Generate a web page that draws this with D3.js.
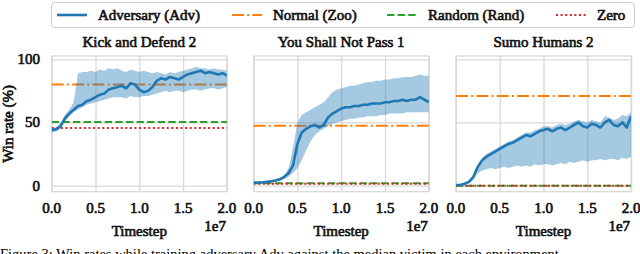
<!DOCTYPE html>
<html>
<head>
  <title>Win rate while training adversary</title>
  <script src="https://d3js.org/d3.v7.min.js"></script>
  <style>
    body { margin: 0; background: #fff; }
    svg { display: block; font-family: "Liberation Serif", "Times New Roman", serif; }
    .lbl { font-size: 15px; fill: #111; stroke: #111; stroke-width: 0.65px; }
  </style>
</head>
<body>
<div id="chart"></div>

<script>
// timesteps, in units of 1e7
var steps = [0, 0.05, 0.1, 0.15, 0.2, 0.25, 0.3, 0.35, 0.4, 0.45, 0.5, 0.55, 0.6, 0.65, 0.7, 0.75, 0.8, 0.85, 0.9, 0.95,
  1.0, 1.05, 1.1, 1.15, 1.2, 1.25, 1.3, 1.35, 1.4, 1.45, 1.5, 1.55, 1.6, 1.65, 1.7, 1.75, 1.8, 1.85, 1.9, 1.95, 2.0];

var panelTitles = ["Kick and Defend 2", "You Shall Not Pass 1", "Sumo Humans 2"];

// Kick and Defend 2
var kdMean = [44, 44.5, 47, 53, 57, 60, 63, 64, 67, 68, 70, 72, 73, 76, 77, 78, 79, 77, 81, 80,
  76, 74, 75, 78, 83, 85, 84, 86, 85, 84, 86, 88, 89, 90, 91, 89, 90, 89, 88, 89, 87];
var kdHigh = [46, 46, 49, 56, 60, 66, 89, 90, 90, 91, 90, 92, 91, 93, 92, 93, 91, 90, 92, 91,
  90, 91, 90, 89, 90, 89, 88, 90, 89, 90, 91, 92, 93, 94, 93, 93, 92, 93, 92, 92, 91];
var kdLow = [42, 43, 45, 51, 55, 58, 60, 62, 64, 65, 66, 67, 68, 69, 70, 70, 70, 69, 71, 70,
  70, 71, 71, 72, 73, 74, 75, 74, 75, 75, 74, 75, 76, 76, 75, 76, 77, 77, 76, 77, 78];

// You Shall Not Pass 1
var ysMean = [2.5, 2.5, 2.5, 3, 3.5, 4, 5, 7, 10, 16, 33, 42, 45, 47, 48, 46, 48, 54, 57, 59,
  61, 62, 62, 63, 63, 64, 64, 65, 65, 65, 66, 66, 67, 67, 68, 67, 68, 68, 70, 68, 66];
var ysHigh = [3, 3, 3, 3.5, 4, 5, 6, 8, 14, 30, 50, 56, 58, 60, 62, 64, 66, 70, 74, 76,
  77, 78, 79, 79, 80, 81, 82, 82, 83, 83, 84, 84, 85, 85, 86, 86, 86, 87, 88, 87, 87];
var ysLow = [2, 2, 2, 2.5, 3, 3.5, 4, 5, 7, 10, 14, 20, 28, 35, 40, 43, 45, 47, 49, 50,
  51, 52, 53, 53, 54, 54, 55, 55, 55, 56, 56, 57, 57, 57, 57, 58, 58, 58, 58, 58, 58];

// Sumo Humans 2
var shMean = [0.5, 0.5, 1.5, 3, 7, 15, 20, 23, 25, 27, 29, 31, 33, 34, 36, 38, 40, 39, 41, 43,
  44, 45, 43, 45, 46, 44, 46, 48, 50, 47, 46, 49, 48, 46, 50, 52, 48, 47, 50, 46, 55];
var shHigh = [1, 1, 2.5, 4, 8, 16, 22, 25, 27, 29, 31, 33, 35, 36, 38, 40, 42, 42, 44, 45,
  47, 47, 46, 48, 49, 48, 49, 51, 52, 51, 50, 52, 51, 50, 55, 54, 52, 53, 56, 55, 58];
var shLow = [0, 0, 1, 2, 5, 10, 12, 13, 14, 13, 14, 15, 14, 15, 16, 15, 16, 15, 17, 16,
  17, 17, 16, 17, 18, 17, 19, 18, 19, 20, 19, 20, 20, 21, 20, 21, 21, 20, 22, 21, 23];

var normalRates = [80, 47.4, 71];
var randomRates = [50.4, 1.8, 0];
var zeroRates = [45.7, 1.4, 0];

var xTicks = [0, 0.5, 1.0, 1.5, 2.0];
var yTicks = [0, 50, 100];

var legendNames = ["Adversary (Adv)", "Normal (Zoo)", "Random (Rand)", "Zero"];

var panels = [
  { mean: kdMean, hi: kdHigh, lo: kdLow },
  { mean: ysMean, hi: ysHigh, lo: ysLow },
  { mean: shMean, hi: shHigh, lo: shLow }
];

var blue = "#1f77b4", orange = "#ff7f0e", green = "#2ca02c", red = "#d62728";
var gridColor = "#d9d9d9";
var styles = [
  { color: blue, dash: null, w: 2.6 },
  { color: orange, dash: "12,3.2,2,3.2", w: 2 },
  { color: green, dash: "7.4,3.2", w: 2 },
  { color: red, dash: "2,2.6", w: 2 }
];

var svg = d3.select("#chart").append("svg")
  .attr("width", 640)
  .attr("height", 254);

// legend box
var legend = svg.append("g");
legend.append("rect")
  .attr("x", 51.5).attr("y", 2.5)
  .attr("width", 583).attr("height", 25)
  .attr("rx", 3)
  .attr("fill", "#fff")
  .attr("stroke", "#cccccc");
var legendX = [57, 232, 387, 556];
legendNames.forEach(function(name, i) {
  legend.append("line")
    .attr("x1", legendX[i]).attr("x2", legendX[i] + 30)
    .attr("y1", 15).attr("y2", 15)
    .attr("stroke", styles[i].color)
    .attr("stroke-width", styles[i].w)
    .attr("stroke-dasharray", styles[i].dash);
  legend.append("text")
    .attr("class", "lbl")
    .attr("x", legendX[i] + 41).attr("y", 20)
    .text(name);
});

var panelLeft = [51.7, 253.6, 455.9];
var panelWidth = 175.2;
var plotTop = 56, plotBottom = 191.7;

var y = d3.scaleLinear().domain([-4.8, 102.6]).range([plotBottom, plotTop]);

panels.forEach(function(p, i) {
  var x = d3.scaleLinear().domain([0, 2.0]).range([panelLeft[i], panelLeft[i] + panelWidth]);
  var g = svg.append("g");

  // grid
  g.append("g")
    .attr("transform", "translate(0," + plotBottom + ")")
    .call(d3.axisBottom(x).tickValues(xTicks).tickSize(-(plotBottom - plotTop)).tickFormat(""))
    .call(function(a) { a.select(".domain").remove(); a.selectAll("line").attr("stroke", gridColor).attr("stroke-width", 1.3); });
  g.append("g")
    .attr("transform", "translate(" + panelLeft[i] + ",0)")
    .call(d3.axisLeft(y).tickValues(yTicks).tickSize(-panelWidth).tickFormat(""))
    .call(function(a) { a.select(".domain").remove(); a.selectAll("line").attr("stroke", gridColor).attr("stroke-width", 1.3); });

  // frame
  g.append("rect")
    .attr("x", panelLeft[i]).attr("y", plotTop)
    .attr("width", panelWidth).attr("height", plotBottom - plotTop)
    .attr("fill", "none").attr("stroke", gridColor).attr("stroke-width", 1.3);

  var clipId = "clip" + i;
  svg.append("clipPath").attr("id", clipId).append("rect")
    .attr("x", panelLeft[i]).attr("y", plotTop)
    .attr("width", panelWidth).attr("height", plotBottom - plotTop);
  var plot = g.append("g").attr("clip-path", "url(#" + clipId + ")");

  // baselines
  var base = [normalRates[i], randomRates[i], zeroRates[i]];
  [1, 2, 3].forEach(function(k) {
    plot.append("line")
      .attr("x1", x(0)).attr("x2", x(2.0))
      .attr("y1", y(base[k - 1])).attr("y2", y(base[k - 1]))
      .attr("stroke", styles[k].color)
      .attr("stroke-width", styles[k].w)
      .attr("stroke-dasharray", styles[k].dash);
  });

  // band
  plot.append("path")
    .datum(steps)
    .attr("fill", blue).attr("fill-opacity", 0.4)
    .attr("d", d3.area()
      .x(function(d) { return x(d); })
      .y0(function(d, j) { return y(p.lo[j]); })
      .y1(function(d, j) { return y(p.hi[j]); }));

  // mean
  plot.append("path")
    .datum(steps)
    .attr("fill", "none")
    .attr("stroke", blue)
    .attr("stroke-width", styles[0].w)
    .attr("stroke-linejoin", "round")
    .attr("d", d3.line()
      .x(function(d) { return x(d); })
      .y(function(d, j) { return y(p.mean[j]); }));

  // title
  svg.append("text")
    .attr("class", "lbl")
    .attr("x", panelLeft[i] + panelWidth / 2).attr("y", 46.5)
    .attr("text-anchor", "middle")
    .text(panelTitles[i]);

  // x tick labels
  xTicks.forEach(function(t) {
    svg.append("text")
      .attr("class", "lbl")
      .attr("x", x(t)).attr("y", 213)
      .attr("text-anchor", "middle")
      .text(t.toFixed(1));
  });

  svg.append("text")
    .attr("class", "lbl")
    .attr("x", panelLeft[i] + panelWidth / 2).attr("y", 236)
    .attr("text-anchor", "middle")
    .text("Timestep");

  svg.append("text")
    .attr("class", "lbl")
    .attr("x", panelLeft[i] + panelWidth - 1).attr("y", 231)
    .attr("text-anchor", "end")
    .text("1e7");
});

// y tick labels
yTicks.forEach(function(v) {
  svg.append("text")
    .attr("class", "lbl")
    .attr("x", 40).attr("y", y(v) + 5)
    .attr("text-anchor", "end")
    .text(v);
});

svg.append("text")
  .attr("class", "lbl")
  .attr("transform", "translate(13," + ((plotTop + plotBottom) / 2) + ") rotate(-90)")
  .attr("text-anchor", "middle")
  .text("Win rate (%)");

// caption, cut off by the page edge
svg.append("text")
  .attr("x", 0).attr("y", 259)
  .style("font-size", "14.5px")
  .text("Figure 3:  Win rates while training adversary Adv against the median victim in each environment");
</script>
</body>
</html>
